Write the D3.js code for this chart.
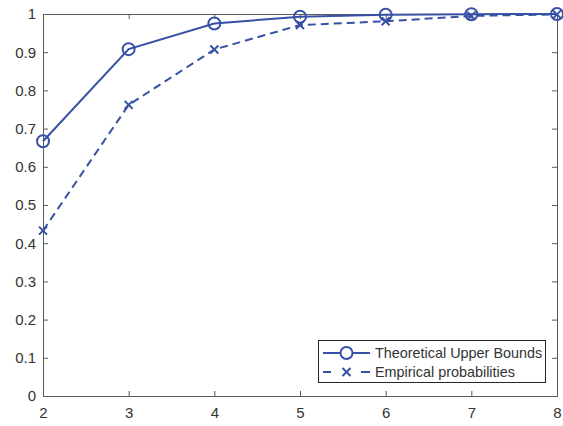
<!DOCTYPE html>
<html><head><meta charset="utf-8">
<script src="https://cdn.jsdelivr.net/npm/d3@7"></script>
<style>body{margin:0;background:#fff}text{font-family:"Liberation Sans",Arial,sans-serif}</style>
</head><body><svg id="c" width="563" height="426"></svg>
<script>
const xs = [2, 3, 4, 5, 6, 7, 8];
const theoretical = [0.667, 0.908, 0.975, 0.993, 0.998, 0.9995, 1.0];
const empirical = [0.433, 0.762, 0.907, 0.971, 0.981, 0.995, 0.999];
const xTicks = [2, 3, 4, 5, 6, 7, 8];
const yTicks = [0, 0.1, 0.2, 0.3, 0.4, 0.5, 0.6, 0.7, 0.8, 0.9, 1];
const seriesNames = ["Theoretical Upper Bounds", "Empirical probabilities"];

const color = "#3651a5";
const axisColor = "#5a5a5a";
const textColor = "#333333";
const L = 43, R = 557, T = 14, B = 396;
const svg = d3.select("#c");
const x = d3.scaleLinear().domain([2, 8]).range([L, R]);
const y = d3.scaleLinear().domain([0, 1]).range([B, T]);

// axes (ticks inward, box)
const gx = svg.append("g").attr("transform", `translate(0,${B})`)
  .call(d3.axisBottom(x).tickValues(xTicks).tickSize(-5).tickPadding(11).tickFormat(d3.format("d")));
const gxt = svg.append("g").attr("transform", `translate(0,${T})`)
  .call(d3.axisTop(x).tickValues(xTicks).tickSize(-5).tickFormat(""));
const gy = svg.append("g").attr("transform", `translate(${L},0)`)
  .call(d3.axisLeft(y).tickValues(yTicks).tickSize(-5).tickPadding(7).tickFormat(d => d === 0 || d === 1 ? d3.format("d")(d) : d3.format(".1f")(d)));
const gyr = svg.append("g").attr("transform", `translate(${R},0)`)
  .call(d3.axisRight(y).tickValues(yTicks).tickSize(-5).tickFormat(""));
[gx, gxt, gy, gyr].forEach(g => {
  g.select(".domain").attr("stroke", axisColor).attr("stroke-width", 1);
  g.selectAll(".tick line").attr("stroke", axisColor);
  g.selectAll(".tick text").attr("fill", textColor).style("font-size", "15px")
    .style("font-family", "'Liberation Sans', Arial, sans-serif");
});

const line = d3.line().x((d, i) => x(xs[i])).y(d => y(d));
svg.append("path").datum(theoretical).attr("d", line)
  .attr("fill", "none").attr("stroke", color).attr("stroke-width", 2);
svg.append("path").datum(empirical).attr("d", line)
  .attr("fill", "none").attr("stroke", color).attr("stroke-width", 2).attr("stroke-dasharray", "8,5");

svg.selectAll("circle.m").data(theoretical).enter().append("circle")
  .attr("cx", (d, i) => x(xs[i])).attr("cy", d => y(d)).attr("r", 6)
  .attr("fill", "none").attr("stroke", color).attr("stroke-width", 2);
const s = 4;
svg.selectAll("path.xm").data(empirical).enter().append("path")
  .attr("d", (d, i) => { const cx = x(xs[i]), cy = y(d);
    return `M${cx-s},${cy-s}L${cx+s},${cy+s}M${cx-s},${cy+s}L${cx+s},${cy-s}`; })
  .attr("stroke", color).attr("stroke-width", 2);

// legend
const lg = svg.append("g");
lg.append("rect").attr("x", 318.5).attr("y", 340.5).attr("width", 227).attr("height", 42)
  .attr("fill", "#fff").attr("stroke", "#262626").attr("stroke-width", 1);
const rows = [353, 372];
lg.append("line").attr("x1", 323).attr("x2", 370).attr("y1", rows[0]).attr("y2", rows[0])
  .attr("stroke", color).attr("stroke-width", 2);
lg.append("circle").attr("cx", 346.5).attr("cy", rows[0]).attr("r", 6)
  .attr("fill", "#fff").attr("stroke", color).attr("stroke-width", 2);
lg.append("line").attr("x1", 323).attr("x2", 370).attr("y1", rows[1]).attr("y2", rows[1])
  .attr("stroke", color).attr("stroke-width", 2).attr("stroke-dasharray", "8,30,9");
lg.append("path").attr("d", `M${346.5-s},${rows[1]-s}L${346.5+s},${rows[1]+s}M${346.5-s},${rows[1]+s}L${346.5+s},${rows[1]-s}`)
  .attr("stroke", color).attr("stroke-width", 2);
seriesNames.forEach((n, i) => {
  lg.append("text").attr("x", 375).attr("y", rows[i]).attr("dy", "0.35em")
    .attr("fill", textColor).style("font-size", "14.4px").text(n);
});
</script></body></html>
